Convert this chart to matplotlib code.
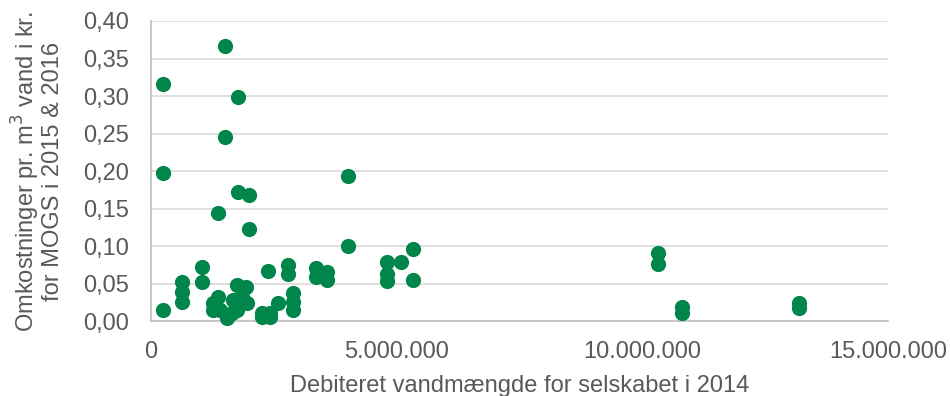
import matplotlib.pyplot as plt
from matplotlib.ticker import FuncFormatter, MultipleLocator

plt.rcParams['font.family'] = ['Liberation Sans', 'DejaVu Sans']

# Debiteret vandmængde (m3) og omkostning pr. m3 (kr.)
vandmaengde = [
    0.24e6, 0.24e6, 0.24e6,
    1.51e6, 1.77e6, 1.51e6, 1.77e6, 1.99e6, 1.36e6, 1.99e6,
    4.01e6, 4.01e6, 5.33e6, 5.09e6, 4.80e6, 4.80e6, 4.80e6, 5.33e6,
    3.36e6, 3.36e6, 3.58e6, 3.58e6, 2.79e6, 2.79e6, 2.38e6,
    2.89e6, 2.89e6, 2.89e6, 2.58e6, 2.26e6, 2.42e6, 2.26e6, 2.42e6,
    0.63e6, 0.63e6, 0.63e6, 1.04e6, 1.04e6,
    1.36e6, 1.26e6, 1.26e6, 1.40e6, 1.55e6, 1.75e6, 1.93e6, 1.67e6,
    1.81e6, 1.95e6, 1.75e6, 1.65e6, 1.85e6,
    10.32e6, 10.32e6, 10.80e6, 10.80e6, 13.19e6, 13.19e6,
]
omkostning = [
    0.316, 0.197, 0.015,
    0.367, 0.299, 0.245, 0.172, 0.168, 0.144, 0.123,
    0.193, 0.100, 0.096, 0.079, 0.079, 0.063, 0.053, 0.055,
    0.071, 0.059, 0.065, 0.055, 0.075, 0.063, 0.067,
    0.037, 0.025, 0.015, 0.024, 0.011, 0.011, 0.006, 0.006,
    0.052, 0.039, 0.025, 0.072, 0.052,
    0.032, 0.024, 0.015, 0.015, 0.004, 0.048, 0.045, 0.028,
    0.024, 0.024, 0.015, 0.011, 0.032,
    0.091, 0.076, 0.019, 0.011, 0.024, 0.017,
]

fig = plt.figure(figsize=(9.5, 3.96), dpi=100)
ax = fig.add_axes([0.159, 0.189, 0.776, 0.758])

ax.scatter(vandmaengde, omkostning, s=120, color='#00854A', zorder=3, clip_on=False, linewidths=0)

ax.set_xlim(0, 15e6)
ax.set_ylim(0, 0.40)
ax.xaxis.set_major_locator(MultipleLocator(5e6))
ax.yaxis.set_major_locator(MultipleLocator(0.05))
ax.xaxis.set_major_formatter(FuncFormatter(lambda v, p: f'{int(v):,}'.replace(',', '.')))
ax.yaxis.set_major_formatter(FuncFormatter(lambda v, p: f'{v:.2f}'.replace('.', ',')))

ax.grid(axis='y', color='#D9D9D9', linewidth=1.2)
ax.set_axisbelow(True)
for side in ['top', 'right']:
    ax.spines[side].set_visible(False)
for side in ['left', 'bottom']:
    ax.spines[side].set_color('#BFBFBF')
    ax.spines[side].set_linewidth(1.2)

fs = 17
ax.tick_params(length=0, labelsize=fs, labelcolor='#595959')
ax.tick_params(axis='y', pad=16)
ax.tick_params(axis='x', pad=14)

ax.set_xlabel('Debiteret vandmængde for selskabet i 2014', fontsize=fs, color='#595959', labelpad=9)
ax.set_ylabel('Omkostninger pr. m$^3$ vand i kr.\nfor MOGS i 2015 & 2016', fontsize=fs,
              color='#595959', labelpad=14, linespacing=1.0)

fig.savefig('out.png', dpi=100)
